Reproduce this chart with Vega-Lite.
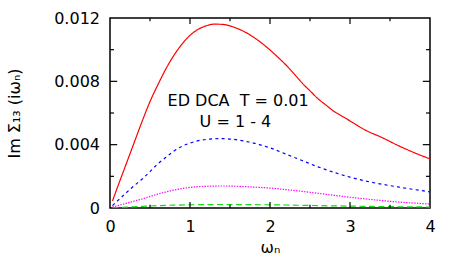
{
  "$schema": "https://vega.github.io/schema/vega-lite/v6.json",
  "width": 320,
  "height": 190,
  "autosize": {"type": "none"},
  "padding": {"left": 110, "top": 18, "right": 33, "bottom": 65},
  "background": "white",
  "datasets": {
    "curves": [
      {"w": 0.0314, "v": 0.00045, "U": "U=4"},
      {"w": 0.1, "v": 0.0014, "U": "U=4"},
      {"w": 0.2, "v": 0.00275, "U": "U=4"},
      {"w": 0.3, "v": 0.0041, "U": "U=4"},
      {"w": 0.4, "v": 0.00545, "U": "U=4"},
      {"w": 0.5, "v": 0.00672, "U": "U=4"},
      {"w": 0.6, "v": 0.0078, "U": "U=4"},
      {"w": 0.7, "v": 0.0088, "U": "U=4"},
      {"w": 0.8, "v": 0.00965, "U": "U=4"},
      {"w": 0.9, "v": 0.01035, "U": "U=4"},
      {"w": 1.0, "v": 0.0109, "U": "U=4"},
      {"w": 1.1, "v": 0.01128, "U": "U=4"},
      {"w": 1.2, "v": 0.0115, "U": "U=4"},
      {"w": 1.3, "v": 0.01161, "U": "U=4"},
      {"w": 1.4, "v": 0.0116, "U": "U=4"},
      {"w": 1.5, "v": 0.0115, "U": "U=4"},
      {"w": 1.6, "v": 0.01132, "U": "U=4"},
      {"w": 1.7, "v": 0.01108, "U": "U=4"},
      {"w": 1.8, "v": 0.01077, "U": "U=4"},
      {"w": 1.9, "v": 0.0104, "U": "U=4"},
      {"w": 2.0, "v": 0.00998, "U": "U=4"},
      {"w": 2.1, "v": 0.00952, "U": "U=4"},
      {"w": 2.2, "v": 0.00903, "U": "U=4"},
      {"w": 2.3, "v": 0.00848, "U": "U=4"},
      {"w": 2.4, "v": 0.0079, "U": "U=4"},
      {"w": 2.5, "v": 0.0074, "U": "U=4"},
      {"w": 2.6, "v": 0.0069, "U": "U=4"},
      {"w": 2.7, "v": 0.0065, "U": "U=4"},
      {"w": 2.8, "v": 0.0061, "U": "U=4"},
      {"w": 2.9, "v": 0.0058, "U": "U=4"},
      {"w": 3.0, "v": 0.0055, "U": "U=4"},
      {"w": 3.2, "v": 0.0049, "U": "U=4"},
      {"w": 3.4, "v": 0.00445, "U": "U=4"},
      {"w": 3.6, "v": 0.00395, "U": "U=4"},
      {"w": 3.8, "v": 0.0035, "U": "U=4"},
      {"w": 4.0, "v": 0.0031, "U": "U=4"},
      {"w": 0.0314, "v": 0.00015, "U": "U=3"},
      {"w": 0.1, "v": 0.00048, "U": "U=3"},
      {"w": 0.2, "v": 0.00095, "U": "U=3"},
      {"w": 0.3, "v": 0.0014, "U": "U=3"},
      {"w": 0.4, "v": 0.00182, "U": "U=3"},
      {"w": 0.5, "v": 0.0023, "U": "U=3"},
      {"w": 0.6, "v": 0.0028, "U": "U=3"},
      {"w": 0.7, "v": 0.0032, "U": "U=3"},
      {"w": 0.8, "v": 0.0036, "U": "U=3"},
      {"w": 0.9, "v": 0.0039, "U": "U=3"},
      {"w": 1.0, "v": 0.0041, "U": "U=3"},
      {"w": 1.1, "v": 0.00425, "U": "U=3"},
      {"w": 1.2, "v": 0.00433, "U": "U=3"},
      {"w": 1.3, "v": 0.00437, "U": "U=3"},
      {"w": 1.4, "v": 0.00438, "U": "U=3"},
      {"w": 1.5, "v": 0.00435, "U": "U=3"},
      {"w": 1.6, "v": 0.0043, "U": "U=3"},
      {"w": 1.7, "v": 0.0042, "U": "U=3"},
      {"w": 1.8, "v": 0.0041, "U": "U=3"},
      {"w": 1.9, "v": 0.00395, "U": "U=3"},
      {"w": 2.0, "v": 0.0038, "U": "U=3"},
      {"w": 2.2, "v": 0.0034, "U": "U=3"},
      {"w": 2.4, "v": 0.0030, "U": "U=3"},
      {"w": 2.6, "v": 0.0026, "U": "U=3"},
      {"w": 2.8, "v": 0.00225, "U": "U=3"},
      {"w": 3.0, "v": 0.00195, "U": "U=3"},
      {"w": 3.2, "v": 0.0017, "U": "U=3"},
      {"w": 3.4, "v": 0.0015, "U": "U=3"},
      {"w": 3.6, "v": 0.00133, "U": "U=3"},
      {"w": 3.8, "v": 0.00117, "U": "U=3"},
      {"w": 4.0, "v": 0.00102, "U": "U=3"},
      {"w": 0.0314, "v": 0.00006, "U": "U=2"},
      {"w": 0.1, "v": 0.00015, "U": "U=2"},
      {"w": 0.2, "v": 0.00029, "U": "U=2"},
      {"w": 0.3, "v": 0.00043, "U": "U=2"},
      {"w": 0.4, "v": 0.00057, "U": "U=2"},
      {"w": 0.6, "v": 0.00088, "U": "U=2"},
      {"w": 0.8, "v": 0.00113, "U": "U=2"},
      {"w": 1.0, "v": 0.0013, "U": "U=2"},
      {"w": 1.2, "v": 0.00137, "U": "U=2"},
      {"w": 1.4, "v": 0.00139, "U": "U=2"},
      {"w": 1.6, "v": 0.00137, "U": "U=2"},
      {"w": 1.8, "v": 0.00132, "U": "U=2"},
      {"w": 2.0, "v": 0.00126, "U": "U=2"},
      {"w": 2.2, "v": 0.00116, "U": "U=2"},
      {"w": 2.4, "v": 0.00105, "U": "U=2"},
      {"w": 2.6, "v": 0.00093, "U": "U=2"},
      {"w": 2.8, "v": 0.0008, "U": "U=2"},
      {"w": 3.0, "v": 0.00068, "U": "U=2"},
      {"w": 3.2, "v": 0.00057, "U": "U=2"},
      {"w": 3.4, "v": 0.00047, "U": "U=2"},
      {"w": 3.6, "v": 0.00038, "U": "U=2"},
      {"w": 3.8, "v": 0.00031, "U": "U=2"},
      {"w": 4.0, "v": 0.00025, "U": "U=2"},
      {"w": 0.0314, "v": 0.000005, "U": "U=1"},
      {"w": 0.2, "v": 0.00005, "U": "U=1"},
      {"w": 0.4, "v": 0.0001, "U": "U=1"},
      {"w": 0.6, "v": 0.00015, "U": "U=1"},
      {"w": 0.8, "v": 0.00018, "U": "U=1"},
      {"w": 1.0, "v": 0.0002, "U": "U=1"},
      {"w": 1.4, "v": 0.00022, "U": "U=1"},
      {"w": 1.8, "v": 0.00021, "U": "U=1"},
      {"w": 2.2, "v": 0.00019, "U": "U=1"},
      {"w": 2.6, "v": 0.00015, "U": "U=1"},
      {"w": 3.0, "v": 0.00012, "U": "U=1"},
      {"w": 3.4, "v": 0.00009, "U": "U=1"},
      {"w": 3.8, "v": 0.00007, "U": "U=1"},
      {"w": 4.0, "v": 0.00006, "U": "U=1"}
    ],
    "xmajor": [{"t": 1}, {"t": 2}, {"t": 3}],
    "xminor": [{"t": 0.5}, {"t": 1.5}, {"t": 2.5}, {"t": 3.5}],
    "ymajor": [{"t": 0.004}, {"t": 0.008}],
    "yminor": [{"t": 0.002}, {"t": 0.006}, {"t": 0.01}]
  },
  "config": {
    "view": {"stroke": "black", "strokeWidth": 1.5},
    "font": "DejaVu Sans",
    "axis": {
      "grid": false,
      "domain": false,
      "ticks": false,
      "tickSize": 0,
      "labelFont": "DejaVu Sans",
      "labelFontSize": 16,
      "labelColor": "black",
      "titleFont": "DejaVu Sans",
      "titleFontSize": 16,
      "titleFontWeight": "normal",
      "titleColor": "black",
      "labelFlush": false,
      "labelOverlap": false
    }
  },
  "layer": [
    {
      "data": {"name": "curves"},
      "mark": {"type": "line", "strokeWidth": 1.2, "clip": true, "interpolate": "monotone"},
      "encoding": {
        "x": {
          "field": "w", "type": "quantitative",
          "scale": {"domain": [0, 4], "nice": false, "zero": false},
          "axis": {
            "orient": "bottom",
            "values": [0, 1, 2, 3, 4],
            "format": "d",
            "labelPadding": 10,
            "title": "ωₙ",
            "titleBaseline": "alphabetic",
            "titleY": 44
          }
        },
        "y": {
          "field": "v", "type": "quantitative",
          "scale": {"domain": [0, 0.012], "nice": false},
          "axis": {
            "orient": "left",
            "values": [0, 0.004, 0.008, 0.012],
            "labelExpr": "datum.value == 0 ? '0' : format(datum.value, '.3f')",
            "labelPadding": 10.5,
            "title": "Im Σ₁₃ (iωₙ)",
            "titleBaseline": "alphabetic",
            "titleX": -91,
            "titleY": 95
          }
        },
        "color": {
          "field": "U", "type": "nominal",
          "scale": {"domain": ["U=4", "U=3", "U=2", "U=1"], "range": ["#ff0000", "#0000ff", "#ff00ff", "#11dd11"]},
          "legend": null
        },
        "strokeDash": {
          "field": "U", "type": "nominal",
          "scale": {"domain": ["U=4", "U=3", "U=2", "U=1"], "range": [[1, 0], [3, 3.3], [1.4, 1.3], [6, 3.5]]},
          "legend": null
        }
      }
    },
    {
      "data": {"name": "xmajor"},
      "mark": {"type": "rule", "color": "black", "strokeWidth": 1.2},
      "encoding": {
        "x": {"field": "t", "type": "quantitative"},
        "y": {"datum": 0, "type": "quantitative"},
        "y2": {"datum": 0.00038}
      }
    },
    {
      "data": {"name": "xmajor"},
      "mark": {"type": "rule", "color": "black", "strokeWidth": 1.2},
      "encoding": {
        "x": {"field": "t", "type": "quantitative"},
        "y": {"datum": 0.012, "type": "quantitative"},
        "y2": {"datum": 0.01162}
      }
    },
    {
      "data": {"name": "xminor"},
      "mark": {"type": "rule", "color": "black", "strokeWidth": 1.2},
      "encoding": {
        "x": {"field": "t", "type": "quantitative"},
        "y": {"datum": 0, "type": "quantitative"},
        "y2": {"datum": 0.0002}
      }
    },
    {
      "data": {"name": "xminor"},
      "mark": {"type": "rule", "color": "black", "strokeWidth": 1.2},
      "encoding": {
        "x": {"field": "t", "type": "quantitative"},
        "y": {"datum": 0.012, "type": "quantitative"},
        "y2": {"datum": 0.0118}
      }
    },
    {
      "data": {"name": "ymajor"},
      "mark": {"type": "rule", "color": "black", "strokeWidth": 1.2},
      "encoding": {
        "y": {"field": "t", "type": "quantitative"},
        "x": {"datum": 0, "type": "quantitative"},
        "x2": {"datum": 0.09}
      }
    },
    {
      "data": {"name": "ymajor"},
      "mark": {"type": "rule", "color": "black", "strokeWidth": 1.2},
      "encoding": {
        "y": {"field": "t", "type": "quantitative"},
        "x": {"datum": 4, "type": "quantitative"},
        "x2": {"datum": 3.91}
      }
    },
    {
      "data": {"name": "yminor"},
      "mark": {"type": "rule", "color": "black", "strokeWidth": 1.2},
      "encoding": {
        "y": {"field": "t", "type": "quantitative"},
        "x": {"datum": 0, "type": "quantitative"},
        "x2": {"datum": 0.05}
      }
    },
    {
      "data": {"name": "yminor"},
      "mark": {"type": "rule", "color": "black", "strokeWidth": 1.2},
      "encoding": {
        "y": {"field": "t", "type": "quantitative"},
        "x": {"datum": 4, "type": "quantitative"},
        "x2": {"datum": 3.95}
      }
    },
    {
      "data": {"values": [{"t": "ED DCA\u00a0\u00a0T = 0.01"}]},
      "mark": {"type": "text", "align": "left", "baseline": "alphabetic", "fontSize": 16, "font": "DejaVu Sans", "color": "black"},
      "encoding": {
        "text": {"field": "t"},
        "x": {"datum": 0.72, "type": "quantitative"},
        "y": {"datum": 0.00642, "type": "quantitative"}
      }
    },
    {
      "data": {"values": [{"t": "U = 1 - 4"}]},
      "mark": {"type": "text", "align": "left", "baseline": "alphabetic", "fontSize": 16, "font": "DejaVu Sans", "color": "black"},
      "encoding": {
        "text": {"field": "t"},
        "x": {"datum": 1.12, "type": "quantitative"},
        "y": {"datum": 0.00512, "type": "quantitative"}
      }
    }
  ]
}
